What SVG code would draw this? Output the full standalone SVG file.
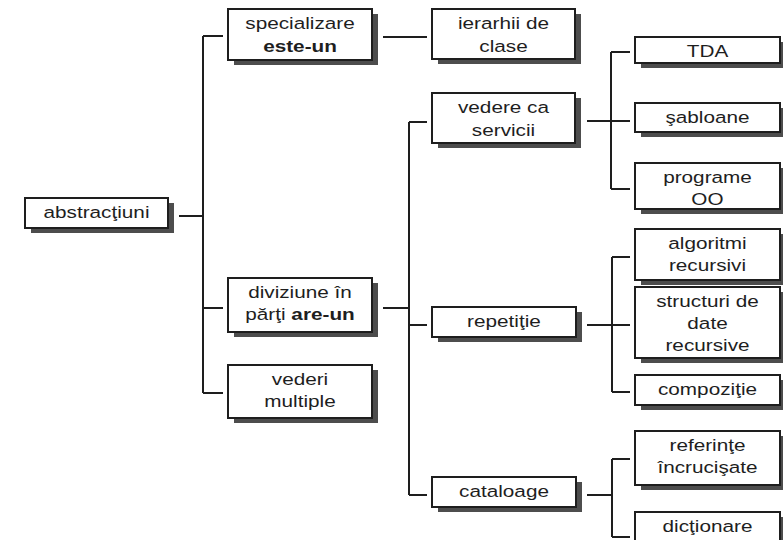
<svg xmlns="http://www.w3.org/2000/svg" width="783" height="540" viewBox="0 0 783 540">
<style>
.box{fill:#fff;stroke:#1e1e1e;stroke-width:2}
.sh{fill:#4d4d4d}
.t{font-family:"Liberation Sans",Arial,sans-serif;font-size:17px;fill:#1e1e1e;text-anchor:middle}
.b{font-weight:bold}
.c{fill:none;stroke:#1e1e1e;stroke-width:2}
</style>
<rect width="783" height="540" fill="#fff"/>
<g id="connectors" class="c">
<path d="M179 216H203M203 36V393M203 36H223M203 308H223M203 393H223"/>
<path d="M383 37H427"/>
<path d="M383 308H409M409 122V495M409 122H427M409 325H427M409 495H427"/>
<path d="M587 121H630M611 52V189M611 52H630M611 189H630"/>
<path d="M587 325H630M612 257V392M612 257H630M612 392H630"/>
<path d="M587 495H612M612 459V537M612 459H630M612 537H630"/>
</g>
<g id="n-abstractiuni"><rect class="sh" x="31" y="203" width="143" height="30"/><rect class="box" x="25" y="198" width="143" height="30"/><text class="t" transform="translate(96.5 218) scale(1.22 1)">abstracţiuni</text></g>
<g id="n-specializare"><rect class="sh" x="234" y="14" width="144" height="51"/><rect class="box" x="228" y="9" width="144" height="51"/><text class="t" transform="translate(300 29) scale(1.22 1)">specializare</text><text class="t b" transform="translate(300 52) scale(1.22 1)">este-un</text></g>
<g id="n-diviziune"><rect class="sh" x="234" y="283" width="144" height="54"/><rect class="box" x="228" y="278" width="144" height="54"/><text class="t" transform="translate(300 298) scale(1.22 1)">diviziune în</text><text class="t" transform="translate(300 320) scale(1.22 1)">părţi <tspan class="b">are-un</tspan></text></g>
<g id="n-vederi"><rect class="sh" x="234" y="370" width="144" height="53"/><rect class="box" x="228" y="365" width="144" height="53"/><text class="t" transform="translate(300 385) scale(1.22 1)">vederi</text><text class="t" transform="translate(300 407) scale(1.22 1)">multiple</text></g>
<g id="n-ierarhii"><rect class="sh" x="438" y="14" width="143" height="50"/><rect class="box" x="432" y="9" width="143" height="50"/><text class="t" transform="translate(503.5 29) scale(1.22 1)">ierarhii de</text><text class="t" transform="translate(503.5 52) scale(1.22 1)">clase</text></g>
<g id="n-vedere"><rect class="sh" x="438" y="98" width="143" height="50"/><rect class="box" x="432" y="93" width="143" height="50"/><text class="t" transform="translate(503.5 113) scale(1.22 1)">vedere ca</text><text class="t" transform="translate(503.5 136) scale(1.22 1)">servicii</text></g>
<g id="n-repetitie"><rect class="sh" x="438" y="312" width="144" height="30"/><rect class="box" x="432" y="307" width="144" height="30"/><text class="t" transform="translate(504 327) scale(1.22 1)">repetiţie</text></g>
<g id="n-cataloage"><rect class="sh" x="438" y="482" width="144" height="30"/><rect class="box" x="432" y="477" width="144" height="30"/><text class="t" transform="translate(504 497) scale(1.22 1)">cataloage</text></g>
<g id="n-tda"><rect class="sh" x="641" y="42" width="145" height="26"/><rect class="box" x="635" y="37" width="145" height="26"/><text class="t" transform="translate(707.5 57) scale(1.22 1)">TDA</text></g>
<g id="n-sabloane"><rect class="sh" x="641" y="108" width="145" height="29"/><rect class="box" x="635" y="103" width="145" height="29"/><text class="t" transform="translate(707.5 123) scale(1.22 1)">şabloane</text></g>
<g id="n-programe"><rect class="sh" x="641" y="168" width="145" height="46"/><rect class="box" x="635" y="163" width="145" height="46"/><text class="t" transform="translate(707.5 183) scale(1.22 1)">programe</text><text class="t" transform="translate(707.5 205) scale(1.22 1)">OO</text></g>
<g id="n-algoritmi"><rect class="sh" x="641" y="234" width="145" height="51"/><rect class="box" x="635" y="229" width="145" height="51"/><text class="t" transform="translate(707.5 249) scale(1.22 1)">algoritmi</text><text class="t" transform="translate(707.5 271) scale(1.22 1)">recursivi</text></g>
<g id="n-structuri"><rect class="sh" x="641" y="292" width="145" height="71"/><rect class="box" x="635" y="287" width="145" height="71"/><text class="t" transform="translate(707.5 307) scale(1.22 1)">structuri de</text><text class="t" transform="translate(707.5 329) scale(1.22 1)">date</text><text class="t" transform="translate(707.5 351) scale(1.22 1)">recursive</text></g>
<g id="n-compozitie"><rect class="sh" x="641" y="380" width="145" height="30"/><rect class="box" x="635" y="375" width="145" height="30"/><text class="t" transform="translate(707.5 395) scale(1.22 1)">compoziţie</text></g>
<g id="n-referinte"><rect class="sh" x="641" y="436" width="145" height="54"/><rect class="box" x="635" y="431" width="145" height="54"/><text class="t" transform="translate(707.5 451) scale(1.22 1)">referinţe</text><text class="t" transform="translate(707.5 473) scale(1.22 1)">încrucişate</text></g>
<g id="n-dictionare"><rect class="sh" x="641" y="517" width="145" height="40"/><rect class="box" x="635" y="512" width="145" height="40"/><text class="t" transform="translate(707.5 532) scale(1.22 1)">dicţionare</text></g>
</svg>
